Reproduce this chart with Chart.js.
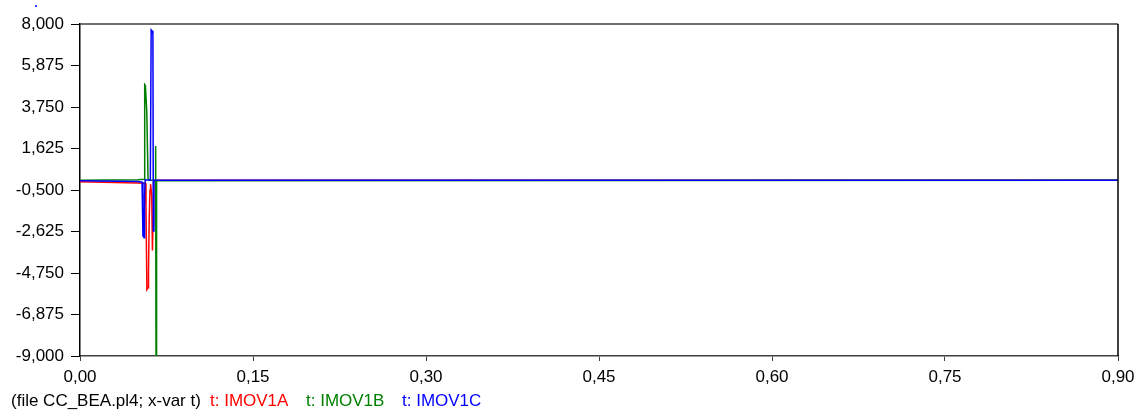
<!DOCTYPE html>
<html>
<head>
<meta charset="utf-8">
<script src="https://cdn.jsdelivr.net/npm/chart.js@4.4.1/dist/chart.umd.min.js"></script>
<style>
  html, body { margin: 0; padding: 0; background: #ffffff; }
  #wrap { width: 1141px; height: 414px; position: relative; }
</style>
</head>
<body>
<div id="wrap"><canvas id="plot" width="1141" height="414"></canvas></div>
<script>
// Currents through the three MOV branches (kA) against time (s)
const timeA = [0, 0.050, 0.0565, 0.0572, 0.0580, 0.0590, 0.0594, 0.0600, 0.0607, 0.0612, 0.0622, 0.0628, 0.0633, 0.0638, 0.0645, 0.9];
const imov1A = [-0.08, -0.14, -0.15, -1.3, -5.6, -5.5, -4.7, -2.0, -0.5, -0.2, -0.8, -3.6, -2.3, -0.1, 0, 0];

const timeB = [0, 0.050, 0.0557, 0.0561, 0.0567, 0.0579, 0.0590, 0.0600, 0.0653, 0.0656, 0.0659, 0.0664, 0.9];
const imov1B = [0.0, 0.02, 0.05, 4.9, 4.85, 3.5, 0.1, 0.0, 0.0, 1.75, -9.0, -0.02, 0];

const timeC = [0, 0.050, 0.0538, 0.0546, 0.0550, 0.0555, 0.0560, 0.0565, 0.0610, 0.0617, 0.0625, 0.0632, 0.0636, 0.0641, 0.065, 0.9];
const imov1C = [-0.02, -0.06, -0.1, -2.9, -1.4, -2.95, -0.8, 0.02, 0.0, 7.7, 7.65, 7.5, -2.6, -0.05, 0, 0];

const seriesNames = ['t: IMOV1A', 't: IMOV1B', 't: IMOV1C'];
const seriesColors = ['#ff0000', '#008000', '#0000ff'];
const fileCaption = '(file CC_BEA.pl4; x-var t)';

const yTicks = [8, 5.875, 3.75, 1.625, -0.5, -2.625, -4.75, -6.875, -9];
const xTicks = [0, 0.15, 0.30, 0.45, 0.60, 0.75, 0.90];

const FONT = "'Liberation Sans', Arial, Helvetica, sans-serif";

function toPoints(xs, ys) {
  return xs.map((x, i) => ({ x: x, y: ys[i] }));
}

// Frame around the plot area plus the caption row underneath
const framePlugin = {
  id: 'frame',
  afterDatasetsDraw(chart) {
    const { ctx, chartArea: a } = chart;
    ctx.save();
    ctx.lineWidth = 1.5;
    ctx.strokeStyle = '#404040';
    ctx.beginPath();
    ctx.moveTo(a.left, a.top); ctx.lineTo(a.right, a.top);
    ctx.stroke();
    ctx.strokeStyle = '#000000';
    ctx.beginPath();
    ctx.moveTo(a.right, a.top); ctx.lineTo(a.right, a.bottom);
    ctx.stroke();
    ctx.restore();
  },
  afterDraw(chart) {
    const { ctx } = chart;
    ctx.save();
    ctx.font = '17px ' + FONT;
    ctx.textBaseline = 'middle';
    ctx.textAlign = 'left';
    ctx.fillStyle = '#000000';
    ctx.fillText(fileCaption, 11, 401);
    const xs = [210, 306, 402];
    seriesNames.forEach((n, i) => {
      ctx.fillStyle = seriesColors[i];
      ctx.fillText(n, xs[i], 401);
    });
    // small marker in the top-left corner
    ctx.fillStyle = '#3b3bff';
    ctx.fillRect(35, 5, 2, 2);
    ctx.restore();
  }
};

const fmt = (v, d) => v.toFixed(d).replace('.', ',');

new Chart(document.getElementById('plot'), {
  type: 'line',
  data: {
    datasets: [
      { label: seriesNames[0], data: toPoints(timeA, imov1A), borderColor: seriesColors[0], order: 3 },
      { label: seriesNames[1], data: toPoints(timeB, imov1B), borderColor: seriesColors[1], order: 2 },
      { label: seriesNames[2], data: toPoints(timeC, imov1C), borderColor: seriesColors[2], order: 1 }
    ]
  },
  options: {
    responsive: false,
    animation: false,
    events: [],
    layout: { padding: { top: 24, right: 23, bottom: 0, left: 0 } },
    elements: {
      line: { borderWidth: 1.5, tension: 0, fill: false },
      point: { radius: 0 }
    },
    plugins: { legend: { display: false }, tooltip: { enabled: false }, title: { display: false } },
    scales: {
      x: {
        type: 'linear',
        min: 0, max: 0.9,
        afterBuildTicks(scale) { scale.ticks = xTicks.map(v => ({ value: v })); },
        afterFit(scale) { scale.height = 58; },
        ticks: {
          color: '#000000',
          font: { family: FONT, size: 17 },
          padding: 6,
          maxRotation: 0,
          autoSkip: false,
          callback: v => fmt(v, 2)
        },
        grid: { drawOnChartArea: false, tickLength: 5, color: '#404040', lineWidth: 1 },
        border: { color: '#404040', width: 1.5 }
      },
      y: {
        type: 'linear',
        min: -9, max: 8,
        afterBuildTicks(scale) { scale.ticks = yTicks.map(v => ({ value: v })); },
        afterFit(scale) { scale.width = 80; },
        ticks: {
          color: '#000000',
          font: { family: FONT, size: 17 },
          padding: 7,
          autoSkip: false,
          callback: v => fmt(v, 3)
        },
        grid: { drawOnChartArea: false, tickLength: 9, color: '#000000', lineWidth: 1 },
        border: { color: '#000000', width: 1.5 }
      }
    }
  },
  plugins: [framePlugin]
});
</script>
</body>
</html>
